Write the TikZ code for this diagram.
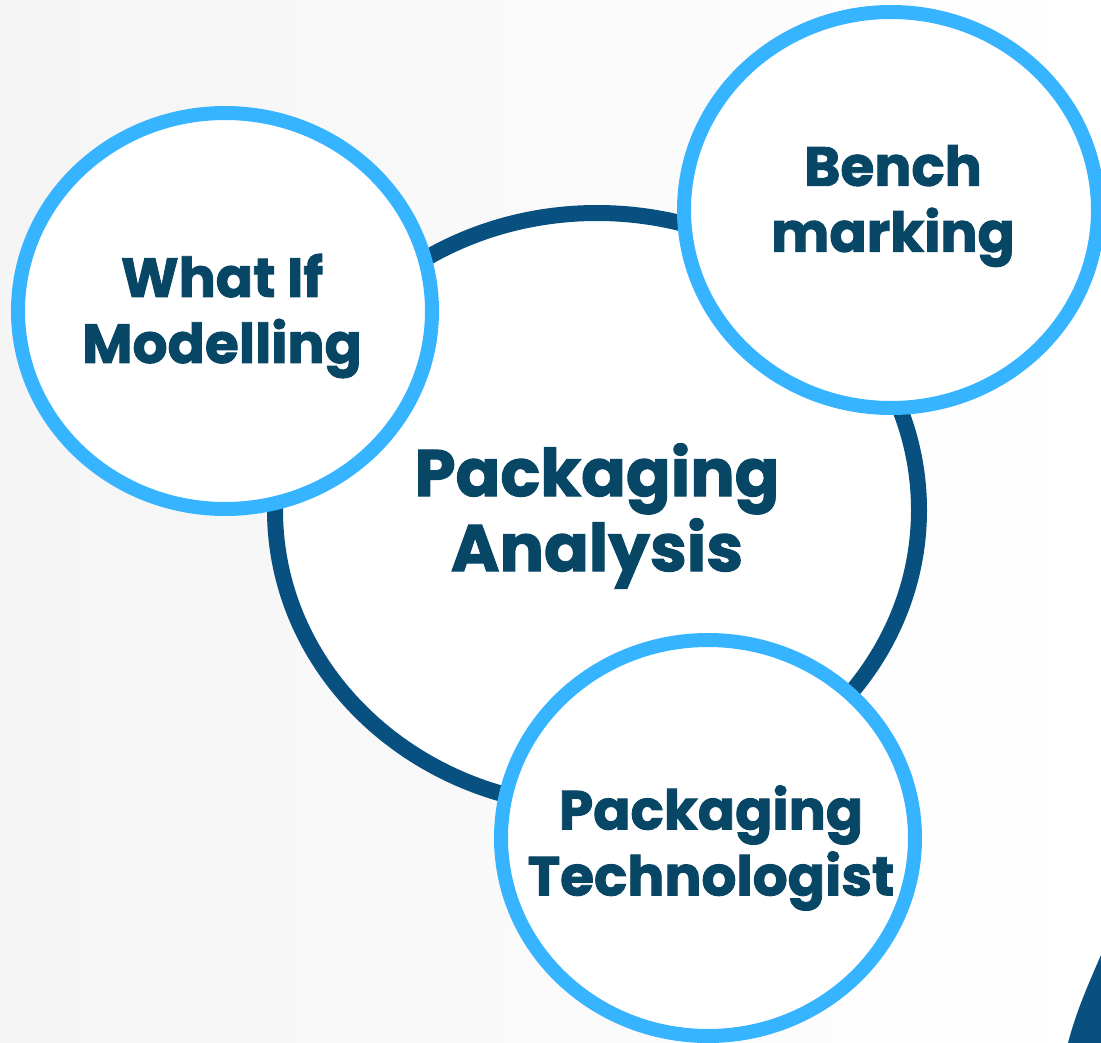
\documentclass[tikz,border=0pt]{standalone}
\usepackage{fontspec}
\setmainfont{Poppins}[BoldFeatures={FakeBold=1.6}]
\usetikzlibrary{shapes.geometric}
\definecolor{textnavy}{HTML}{074665}
\definecolor{ringnavy}{HTML}{07507F}
\definecolor{ringsky}{HTML}{36B4FF}
\begin{document}
\begin{tikzpicture}[x=1pt,y=-1pt,
    hub/.style={ellipse,draw=ringnavy,line width=16pt,fill=white,
      minimum width=644pt,minimum height=594pt,inner sep=0pt},
    bubble/.style={ellipse,draw=ringsky,line width=14pt,fill=white,
      minimum width=414pt,minimum height=396pt,inner sep=0pt},
    bigword/.style={align=center,text=textnavy,inner sep=0pt,
      font=\bfseries\fontsize{66}{75}\selectfont},
    word/.style={align=center,text=textnavy,inner sep=0pt,
      font=\bfseries\fontsize{55}{66}\selectfont}]
  \useasboundingbox (0,0) rectangle (1101,1043);
  \clip (0,0) rectangle (1101,1043);
  \shade[left color=black!4,right color=white] (0,0) rectangle (1101,1043);
  % dark corner piece
  \fill[ringnavy] (1101,955) .. controls (1088,985) and (1076,1012) .. (1068,1043) -- (1101,1043) -- cycle;

  \node[hub] (analysis) at (597,510) {};
  \node[bigword] (analysistext) at (597,516) {Packaging\\Analysis};

  \node[bubble] (whatif) at (225,311) {};
  \node[word] (whatiftext) at (222,316) {What If\\Modelling};
  \node[bubble] (bench) at (891,210) {};
  \node[word] (benchtext) at (893,206) {Bench\\marking};
  \node[bubble] (techno) at (708,838) {};
  \node[word] (technotext) at (711,848) {Packaging\\Technologist};
\end{tikzpicture}
\end{document}
